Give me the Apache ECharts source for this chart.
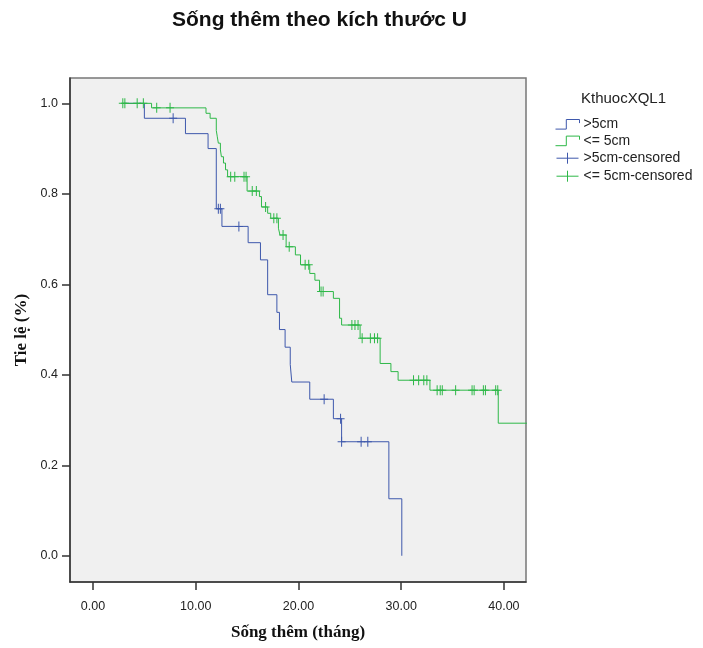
<!DOCTYPE html>
<html>
<head>
<meta charset="utf-8">
<script src="https://cdn.jsdelivr.net/npm/echarts@6/dist/echarts.min.js"></script>
<style>
  html, body { margin: 0; padding: 0; background: #ffffff; }
  #chart { width: 703px; height: 648px; }
</style>
</head>
<body>
<div id="chart"></div>
<script>
// Kaplan-Meier survival by tumour size group (time in months, survival proportion)

// >5cm group: step points [time, survival after the event]
const bigSteps = [
  [3.0, 1.0], [5.0, 0.967], [9.0, 0.933], [11.2, 0.9], [12.0, 0.767],
  [12.55, 0.728], [15.1, 0.692], [16.3, 0.654], [17.0, 0.577], [17.9, 0.538],
  [18.15, 0.5], [18.7, 0.461], [19.2, 0.423], [19.35, 0.384], [21.1, 0.346],
  [23.4, 0.303], [24.2, 0.252], [28.8, 0.126], [30.06, 0.0]
];
// >5cm group: censored observations [time, survival]
const bigCensored = [
  [7.8, 0.967], [12.2, 0.767], [12.4, 0.767], [14.2, 0.728], [22.5, 0.346],
  [24.1, 0.303], [24.2, 0.252], [26.1, 0.252], [26.75, 0.252]
];

// <= 5cm group: step points
const smallSteps = [
  [2.9, 1.0], [5.7, 0.99], [11.0, 0.978], [11.4, 0.967], [12.0, 0.94],
  [12.1, 0.926], [12.2, 0.912], [12.4, 0.897], [12.5, 0.882], [12.7, 0.868],
  [12.9, 0.853], [13.1, 0.838], [15.0, 0.806], [16.2, 0.794], [16.4, 0.771],
  [17.0, 0.757], [17.3, 0.746], [18.05, 0.724], [18.2, 0.709], [18.8, 0.683],
  [19.7, 0.665], [20.2, 0.643], [21.1, 0.624], [21.6, 0.609], [22.05, 0.584],
  [23.4, 0.569], [24.0, 0.525], [24.2, 0.51], [26.0, 0.481], [27.95, 0.425],
  [29.0, 0.407], [29.7, 0.388], [32.8, 0.366], [39.45, 0.293], [43.0, 0.293]
];
// <= 5cm group: censored observations
const smallCensored = [
  [2.9, 1.0], [3.1, 1.0], [4.3, 1.0], [4.9, 1.0],
  [6.2, 0.99], [7.5, 0.99],
  [13.4, 0.838], [13.8, 0.838], [14.7, 0.838], [14.9, 0.838],
  [15.5, 0.806], [15.9, 0.806],
  [16.8, 0.771], [17.6, 0.746], [17.9, 0.746], [18.5, 0.709], [19.1, 0.683],
  [20.65, 0.643], [21.0, 0.643], [22.2, 0.584], [22.4, 0.584],
  [25.2, 0.51], [25.5, 0.51], [25.8, 0.51],
  [26.2, 0.481], [27.0, 0.481], [27.4, 0.481], [27.7, 0.481],
  [31.2, 0.388], [31.7, 0.388], [32.2, 0.388], [32.5, 0.388],
  [33.5, 0.366], [33.8, 0.366], [34.0, 0.366], [35.3, 0.366], [36.9, 0.366],
  [37.1, 0.366], [38.0, 0.366], [38.2, 0.366], [39.2, 0.366], [39.4, 0.366]
];

const xTicks = [0, 10, 20, 30, 40];
const yTicks = [0, 0.2, 0.4, 0.6, 0.8, 1.0];
const groupNames = ['>5cm', '<= 5cm', '>5cm-censored', '<= 5cm-censored'];

const BLUE = '#3E58AC';
const GREEN = '#2EB848';
const PLUS = 'path://M3.5,0 h1 v4.5 h3.5 v1 h-3.5 v4.5 h-1 v-4.5 h-3.5 v-1 h3.5 z';
const STEP_ICON = 'path://M0,9 H9 V1 H20 V4';
const CENSOR_ICON = 'path://M0,5 H20 M10,0 V10';
const SANS = 'Liberation Sans, Arial, sans-serif';
const SERIF = 'Liberation Serif, Times New Roman, serif';

const chart = echarts.init(document.getElementById('chart'), null, { renderer: 'canvas' });

chart.setOption({
  animation: false,
  backgroundColor: '#ffffff',
  title: [
    {
      text: 'Sống thêm theo kích thước U',
      left: 167, top: 5,
      textStyle: { fontFamily: SANS, fontSize: 21, fontWeight: 'bold', color: '#111' }
    },
    {
      text: 'KthuocXQL1',
      left: 576, top: 86,
      textStyle: { fontFamily: SANS, fontSize: 15, fontWeight: 'normal', color: '#222' }
    }
  ],
  legend: {
    orient: 'vertical',
    left: 548, top: 112,
    itemWidth: 24, itemHeight: 11, itemGap: 2,
    selectedMode: false,
    textStyle: { fontFamily: SANS, fontSize: 14, color: '#222', padding: [0, 0, 0, -1] },
    data: [
      { name: groupNames[0], icon: STEP_ICON, itemStyle: { color: 'none', borderColor: BLUE, borderWidth: 1 } },
      { name: groupNames[1], icon: STEP_ICON, itemStyle: { color: 'none', borderColor: GREEN, borderWidth: 1 } },
      { name: groupNames[2], icon: CENSOR_ICON, itemStyle: { color: 'none', borderColor: BLUE, borderWidth: 1 } },
      { name: groupNames[3], icon: CENSOR_ICON, itemStyle: { color: 'none', borderColor: GREEN, borderWidth: 1 } }
    ]
  },
  grid: {
    left: 70, right: 177, top: 78, bottom: 66,
    outerBoundsMode: 'none',
    containLabel: false,
    show: true,
    backgroundColor: '#f0f0f0',
    borderColor: '#777',
    borderWidth: 1.5
  },
  xAxis: {
    type: 'value',
    min: -2.24, max: 42.15,
    name: 'Sống thêm (tháng)',
    nameLocation: 'middle',
    nameGap: 42,
    nameTextStyle: { fontFamily: SERIF, fontSize: 17, fontWeight: 'bold', color: '#111' },
    axisLine: { show: true, onZero: false, lineStyle: { color: '#333', width: 1.5 } },
    axisTick: { show: true, length: 8, customValues: xTicks, lineStyle: { color: '#333', width: 1.5 } },
    axisLabel: {
      customValues: xTicks, margin: 18,
      formatter: v => v.toFixed(2),
      fontFamily: SANS, fontSize: 12.5, color: '#222'
    },
    splitLine: { show: false }
  },
  yAxis: {
    type: 'value',
    min: -0.058, max: 1.056,
    name: 'Tie lệ (%)',
    nameLocation: 'middle',
    nameGap: 33,
    nameTextStyle: { fontFamily: SERIF, fontSize: 17, fontWeight: 'bold', color: '#111' },
    axisLine: { show: true, onZero: false, lineStyle: { color: '#333', width: 1.5 } },
    axisTick: { show: true, length: 8, customValues: yTicks, lineStyle: { color: '#333', width: 1.5 } },
    axisLabel: {
      customValues: yTicks, margin: 12,
      formatter: v => v.toFixed(1),
      fontFamily: SANS, fontSize: 12.5, color: '#222'
    },
    splitLine: { show: false }
  },
  series: [
    {
      name: groupNames[0], type: 'line', step: 'end', data: bigSteps,
      showSymbol: false, symbol: 'none', clip: true,
      lineStyle: { color: BLUE, width: 1 }, itemStyle: { color: BLUE }, z: 3
    },
    {
      name: groupNames[1], type: 'line', step: 'end', data: smallSteps,
      showSymbol: false, symbol: 'none', clip: true,
      lineStyle: { color: GREEN, width: 1 }, itemStyle: { color: GREEN }, z: 4
    },
    {
      name: groupNames[2], type: 'scatter', data: bigCensored,
      symbol: PLUS, symbolSize: [8, 10],
      itemStyle: { color: BLUE, opacity: 1 }, z: 5
    },
    {
      name: groupNames[3], type: 'scatter', data: smallCensored,
      symbol: PLUS, symbolSize: [8, 10],
      itemStyle: { color: GREEN, opacity: 1 }, z: 6
    }
  ]
});
</script>
</body>
</html>
